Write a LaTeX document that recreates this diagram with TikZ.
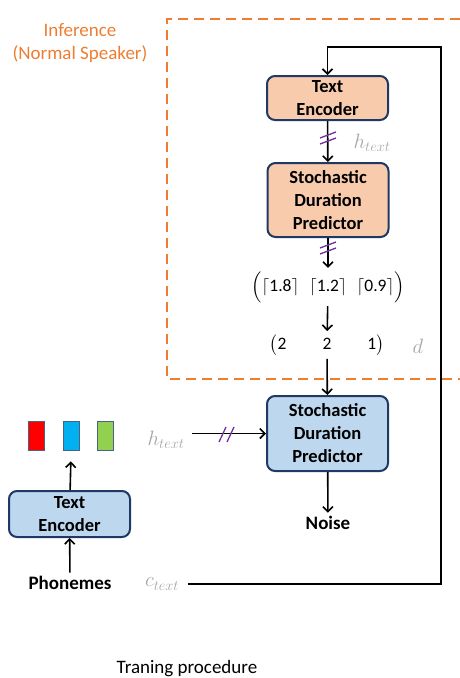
\documentclass[tikz,border=0pt]{standalone}
\usepackage{amsmath}
\usepackage{fontspec}
\setmainfont{Carlito}
\usepackage{tikz}
\definecolor{inforange}{RGB}{237,125,49}
\definecolor{encpeach}{RGB}{248,203,173}
\definecolor{encblue}{RGB}{189,215,238}
\definecolor{boxnavy}{RGB}{31,56,100}
\definecolor{slashpurple}{RGB}{112,48,160}
\definecolor{labelgray}{RGB}{166,166,166}
\definecolor{tokred}{RGB}{255,0,0}
\definecolor{tokblue}{RGB}{0,176,240}
\definecolor{tokgreen}{RGB}{146,208,80}
\usetikzlibrary{positioning}
\usetikzlibrary{arrows.meta}
\tikzset{block/.style={
    draw=boxnavy, line width=2pt, rounded corners=8pt,
    minimum width=121pt, inner sep=0pt, align=center,
    font=\bfseries\fontsize{18.5}{23}\selectfont
  },
  peach/.style={block, fill=encpeach},
  paleblue/.style={block, fill=encblue},
  flow/.style={black, line width=1.6pt, -{Straight Barb[length=5pt,width=10pt]}},
  slash/.style={slashpurple, line width=1.3pt},
  token/.style={draw=boxnavy!80, line width=1.8pt, minimum width=16pt,
    minimum height=29pt, inner sep=0pt},
  lbl/.style={labelgray, font=\fontsize{21}{24}\selectfont},
  boldtxt/.style={font=\bfseries\fontsize{19}{22}\selectfont},
  vec/.style={font=\fontsize{17.5}{20}\selectfont}
}

\begin{document}
\begin{tikzpicture}[x=1pt,y=-1pt]
      \useasboundingbox (0,0) rectangle (460,678);
      % inference region
      \draw[inforange,line width=2.4pt,dash pattern=on 10pt off 6pt] (460,19) -- (167,19) -- (167,379) -- (460,379);
      \node[inforange,align=center,font=\fontsize{19}{23}\selectfont] (inftitle) at (80,43.5) {Inference\\(Normal Speaker)};
      % top branch
      \node[peach,minimum height=44pt] (encT) at (327.5,98) {Text\\Encoder};
      \node[peach,minimum height=74pt] (sdpT) at (328,200) {Stochastic\\Duration\\Predictor};
      \node[vec] (ceilvec) at (328,287) {$\Bigl(\lceil\text{1.8}\rceil\hspace{10pt}\lceil\text{1.2}\rceil\hspace{10pt}\lceil\text{0.9}\rceil\Bigr)$};
      \node[vec] (dvec) at (327,345) {$\bigl(\text{2}\hspace{36pt}\text{2}\hspace{36pt}\text{1}\bigr)$};
      \node[lbl] (dlbl) at (418,346) {$d$};
      \node[lbl] (htextT) at (372,143) {$h_{text}$};
      \draw[flow] (encT) -- (sdpT);
      \draw[flow] (sdpT) -- (ceilvec);
      \draw[flow] (ceilvec) -- (dvec);
      \foreach \dy in {0,6}
        \draw[slash] (320,138+\dy) -- (336,132+\dy);
      \foreach \dy in {0,6}
        \draw[slash] (320,248+\dy) -- (336,242+\dy);
      % training branch
      \node[paleblue,minimum height=75pt] (sdpB) at (327.5,433.5) {Stochastic\\Duration\\Predictor};
      \node[boldtxt] (noise) at (328,523) {Noise};
      \draw[flow] (dvec) -- (sdpB);
      \draw[flow] (sdpB) -- (noise);
      \node[lbl] (htextL) at (166,440) {$h_{text}$};
      \draw[flow,shorten <=4pt] (htextL.east |- sdpB.west) -- (sdpB.west);
      \foreach \dx in {0,8}
        \draw[slash] (219+\dx,442) -- (226+\dx,427);
      \node[paleblue,minimum height=46pt] (encL) at (69.5,514) {Text\\Encoder};
      \node[token,fill=tokred] (tokA) at (36.5,436) {};
      \node[token,fill=tokblue] (tokB) at (71.5,436) {};
      \node[token,fill=tokgreen] (tokC) at (105.5,436) {};
      \node[boldtxt] (phon) at (70,583) {Phonemes};
      \draw[flow] (phon) -- (encL);
      \draw[flow,shorten >=10pt] (encL) -- (tokB);
      % conditioning loop
      \node[lbl] (ctext) at (162,584) {$c_{text}$};
      \coordinate (looptop) at (441,47);
      \draw[flow,shorten <=5pt] (ctext.east) -| (looptop) -| (encT.north);
      \node[font=\fontsize{19}{22}\selectfont] (caption) at (187,669) {Traning procedure};
\end{tikzpicture}
\end{document}
